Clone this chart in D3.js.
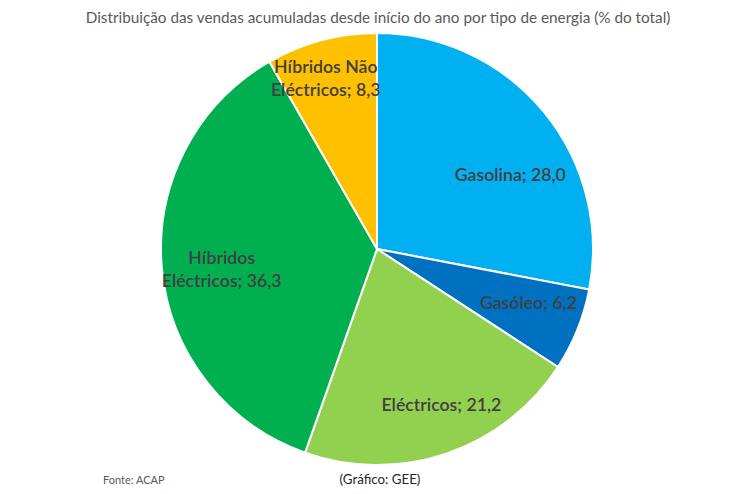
<!DOCTYPE html>
<html>
<head>
<meta charset="utf-8">
<script src="https://cdn.jsdelivr.net/npm/d3@7"></script>
<style>
  body { margin: 0; background: #fff; }
  svg { display: block; }
</style>
</head>
<body>
<svg width="756" height="494"></svg>
<script>
'use strict'

const categories = ['Gasolina', 'Gasóleo', 'Eléctricos', 'Híbridos Eléctricos', 'Híbridos Não Eléctricos'];
const values = [28.0, 6.2, 21.2, 36.3, 8.3];
const colors = ['#00B0F0', '#0070C0', '#92D050', '#00B050', '#FFC000'];
// label lines as shown in the chart
const labelLines = [
  ['Gasolina; 28,0'],
  ['Gasóleo; 6,2'],
  ['Eléctricos; 21,2'],
  ['Híbridos', 'Eléctricos; 36,3'],
  ['Híbridos Não', 'Eléctricos; 8,3']
];
// small nudges from the centroid, like Excel's best-fit placement
const labelNudge = [[10, 28], [3, -6], [13, 4], [4, 6], [-10, -16]];

const svg = d3.select('svg');
const cx = 377, cy = 249, R = 216;
const font = 'Lato, "Noto Sans", sans-serif';

svg.append('text')
  .attr('x', 378).attr('y', 23)
  .attr('text-anchor', 'middle')
  .style('font-family', font)
  .style('font-size', '15.3px')
  .style('fill', '#595959')
  .text('Distribuição das vendas acumuladas desde início do ano por tipo de energia (% do total)');

const data = categories.map((c, i) => ({ name: c, value: values[i], i }));

const pie = d3.pie().sort(null).value(d => d.value);
const arc = d3.arc().innerRadius(0).outerRadius(R);
const labelArc = d3.arc().innerRadius(160).outerRadius(160);

const g = svg.append('g').attr('transform', `translate(${cx},${cy})`);
const arcs = pie(data);

g.selectAll('path')
  .data(arcs)
  .join('path')
  .attr('d', arc)
  .attr('fill', d => colors[d.data.i])
  .attr('stroke', '#fff')
  .attr('stroke-width', 2);

const labels = g.selectAll('text.lbl')
  .data(arcs)
  .join('text')
  .attr('class', 'lbl')
  .attr('text-anchor', 'middle')
  .attr('transform', d => {
    const [x, y] = labelArc.centroid(d);
    const n = labelNudge[d.data.i];
    return `translate(${x + n[0]},${y + n[1]})`;
  })
  .style('font-family', font)
  .style('font-size', '17.7px')
  .style('font-weight', '600')
  .style('fill', '#404040');

labels.each(function(d) {
  const lines = labelLines[d.data.i];
  const t = d3.select(this);
  lines.forEach((l, k) => {
    t.append('tspan')
      .attr('x', 0)
      .attr('y', (k - (lines.length - 1) / 2) * 23)
      .attr('dy', '0.35em')
      .text(l);
  });
});

svg.append('text')
  .attr('x', 103).attr('y', 484)
  .style('font-family', font)
  .style('font-size', '11px')
  .style('fill', '#595959')
  .text('Fonte: ACAP');

svg.append('text')
  .attr('x', 380).attr('y', 484)
  .attr('text-anchor', 'middle')
  .style('font-family', font)
  .style('font-size', '13.3px')
  .style('fill', '#262626')
  .text('(Gráfico: GEE)');
</script>
</body>
</html>
